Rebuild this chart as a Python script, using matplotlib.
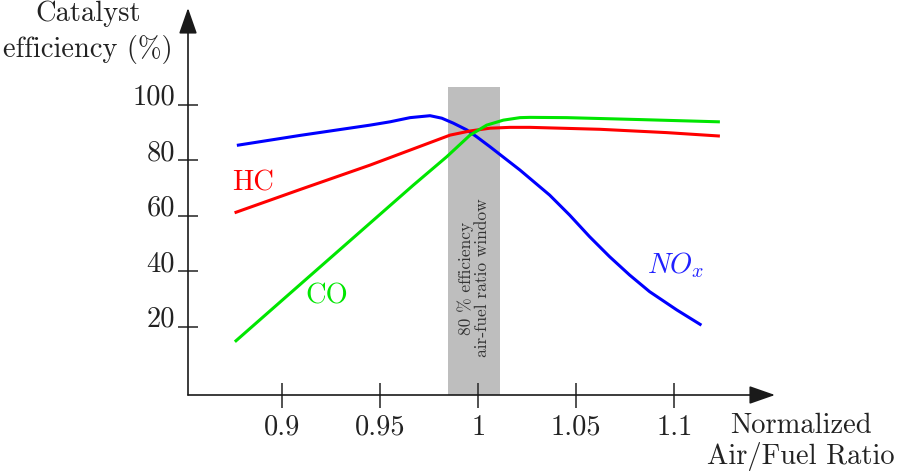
import matplotlib
matplotlib.use("Agg")
import matplotlib.pyplot as plt

plt.rcParams['font.family'] = 'serif'
plt.rcParams['font.serif'] = ['cmr10', 'DejaVu Serif']
plt.rcParams['mathtext.fontset'] = 'cm'
plt.rcParams['axes.unicode_minus'] = False

# ---- data ----
nox_x = [0.8776, 0.9091, 0.9448, 0.9550, 0.9652, 0.9754, 0.9814, 0.9873, 0.9941,
         0.9992, 1.0060, 1.0213, 1.0364, 1.0466, 1.0568, 1.0670, 1.0772,
         1.0874, 1.1013, 1.1132]
nox_y = [85.4, 88.9, 92.6, 93.8, 95.3, 96.0, 95.1, 93.3, 90.9,
         88.4, 84.8, 76.4, 67.4, 60.2, 52.4, 45.2, 38.6,
         32.6, 26.0, 20.8]

hc_x = [0.8764, 0.9091, 0.9448, 0.9652, 0.9856, 0.9958, 1.0060, 1.0162, 1.0264,
        1.0621, 1.0962, 1.1225]
hc_y = [61.2, 69.4, 78.2, 83.6, 89.0, 90.5, 91.5, 91.8, 91.8,
        91.1, 89.9, 88.7]

co_x = [0.8764, 0.9669, 0.9839, 0.9958, 1.0043, 1.0128, 1.0213, 1.0264, 1.0452,
        1.0826, 1.1225]
co_y = [14.9, 71.0, 81.2, 89.0, 92.6, 94.4, 95.3, 95.4, 95.3,
        94.6, 93.8]

x_ticks = [0.9, 0.95, 1.0, 1.05, 1.1]
x_ticklabels = ['0.9', '0.95', '1', '1.05', '1.1']
y_ticks = [20, 40, 60, 80, 100]
y_ticklabels = ['20', '40', '60', '80', '100']

window_lo, window_hi, window_top = 0.9844, 1.0111, 106.3
x_range = (0.8519, 1.1514)
y_range = (-4.65, 134.81)

FS = 20.5
TXT = '#222222'

fig = plt.figure(figsize=(9.06, 4.72), dpi=100)
ax = fig.add_axes([188 / 906, 1 - 395 / 472, (775 - 188) / 906, (395 - 8) / 472])
ax.set_xlim(*x_range)
ax.set_ylim(*y_range)
for s in ax.spines.values():
    s.set_visible(False)

# gray window
ax.fill_between([window_lo, window_hi], y_range[0], window_top,
                color='#bebebe', lw=0, zorder=1)
ax.text((window_lo + window_hi) / 2, 37.5, "80 % efficiency\nair-fuel ratio window",
        rotation=90, ha='center', va='center', fontsize=12.5, color='#333333',
        linespacing=1.05, multialignment='center', zorder=2)

# curves
ax.plot(nox_x, nox_y, color='#0000ff', lw=2.2, zorder=3, solid_joinstyle='round')
ax.plot(hc_x, hc_y, color='#ff0000', lw=2.2, zorder=3, solid_joinstyle='round')
ax.plot(co_x, co_y, color='#00e600', lw=2.2, zorder=3, solid_joinstyle='round')

# curve labels
ax.text(0.8851, 71.7, "HC", color='#ff0000', fontsize=FS, ha='center', va='center')
ax.text(0.9227, 30.8, "CO", color='#00e600', fontsize=FS, ha='center', va='center')
ax.text(1.1004, 42.2, r"$NO_x$", color='#2020ff', fontsize=FS, ha='center', va='center')

# axes with arrows
arrow_kw = dict(arrowstyle='-|>,head_length=0.8,head_width=0.28', mutation_scale=20,
                lw=1.2, color='#1a1a1a', shrinkA=0, shrinkB=0)
ax.annotate('', xy=(0, 1), xytext=(0, 0), xycoords='axes fraction', arrowprops=arrow_kw)
ax.annotate('', xy=(1, 0), xytext=(0, 0), xycoords='axes fraction', arrowprops=arrow_kw)

ax.set_xticks(x_ticks)
ax.set_xticklabels(x_ticklabels)
ax.set_yticks(y_ticks)
ax.set_yticklabels(y_ticklabels)
ax.tick_params(axis='x', direction='inout', length=18, width=1.2, color='#333333',
               pad=5, labelsize=FS, labelcolor=TXT)
ax.tick_params(axis='y', direction='inout', length=14, width=1.2, color='#333333',
               pad=2.5, labelsize=FS, labelcolor=TXT)
for t in ax.get_yticklabels():
    t.set_verticalalignment('baseline')

fig.text(88 / 906, 1 - 21 / 472, "Catalyst", ha='center', va='baseline',
         fontsize=FS, color=TXT)
fig.text(88 / 906, 1 - 57 / 472, "efficiency (%)", ha='center', va='baseline',
         fontsize=FS, color=TXT)
fig.text(801 / 906, 1 - 441.5 / 472, "Normalized\nAir/Fuel Ratio", ha='center', va='center',
         fontsize=FS, linespacing=1.15, multialignment='center', color=TXT)

fig.savefig("out.png", dpi=100)
